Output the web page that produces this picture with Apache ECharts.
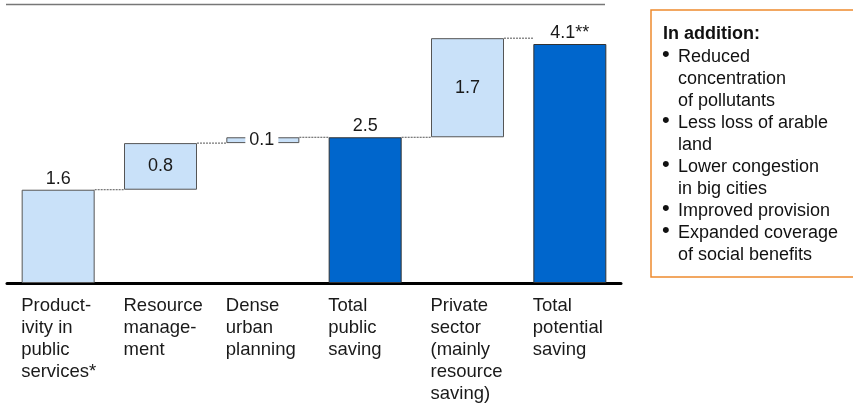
<!DOCTYPE html>
<html>
<head>
<meta charset="utf-8">
<script src="https://cdn.jsdelivr.net/npm/echarts@6/dist/echarts.min.js"></script>
<style>
  html, body { margin: 0; padding: 0; background: #fff; }
  #chart { width: 853px; height: 405px; }
</style>
</head>
<body>
<div id="chart"></div>
<script>
// Category labels, one line per entry
const categories = [
  ['Product-', 'ivity in', 'public', 'services*'],
  ['Resource', 'manage-', 'ment'],
  ['Dense', 'urban', 'planning'],
  ['Total', 'public', 'saving'],
  ['Private', 'sector', '(mainly', 'resource', 'saving)'],
  ['Total', 'potential', 'saving']
];
// Incremental savings (floating bars) and totals (bars from zero)
const increments = [1.6, 0.8, 0.1, null, 1.7, null];
const totals = [null, null, null, 2.5, null, 4.1];
const valueLabels = ['1.6', '0.8', '0.1', '2.5', '1.7', '4.1**'];

const sideTitle = 'In addition:';
const sideItems = [
  ['Reduced', 'concentration', 'of pollutants'],
  ['Less loss of arable', 'land'],
  ['Lower congestion', 'in big cities'],
  ['Improved provision'],
  ['Expanded coverage', 'of social benefits']
];

const FONT = 'Liberation Sans, Arial, Helvetica, sans-serif';
const LIGHT = '#C9E1F9';
const DARK = '#0066CC';
const BAR_W = 73;

// Waterfall layout: invisible base, then visible segment
const base = [], incData = [], totData = [], levels = [];
let running = 0;
for (let i = 0; i < categories.length; i++) {
  if (increments[i] != null) {
    base.push(running);
    running += increments[i];
    totData.push('-');
    const labelOpt = i === 0
      ? { show: true, position: 'top', distance: 2 }
      : (increments[i] < 0.3
          ? { show: true, position: 'inside', backgroundColor: '#fff', padding: [2, 4], offset: [-1, 0] }
          : { show: true, position: 'inside' });
    labelOpt.formatter = valueLabels[i];
    incData.push({ value: increments[i], label: labelOpt });
  } else {
    base.push(0);
    running = totals[i];
    incData.push('-');
    totData.push({ value: totals[i], label: { show: true, position: 'top', distance: 2, formatter: valueLabels[i] } });
  }
  levels.push(running);
}
const connectors = [];
for (let i = 0; i < categories.length - 1; i++) connectors.push([i, levels[i]]);

// Side note lines with bullet markers
const bodyLines = [], bulletLines = [];
sideItems.forEach(item => item.forEach((ln, k) => {
  bodyLines.push(ln);
  bulletLines.push(k === 0 ? '•' : ' ');
}));

const chart = echarts.init(document.getElementById('chart'), null, { renderer: 'canvas' });
chart.setOption({
  animation: false,
  backgroundColor: '#fff',
  textStyle: { fontFamily: FONT },
  grid: { left: 7, width: 614, bottom: 122, top: 3.2 },
  xAxis: {
    type: 'category',
    data: categories.map(c => c.join('\n')),
    axisLine: { show: true, lineStyle: { color: '#000', width: 3 } },
    axisTick: { show: false },
    axisLabel: {
      interval: 0,
      margin: 12,
      formatter: v => v.split('\n').map(s => '{a|' + s + '}').join('\n'),
      rich: {
        a: { width: 74, align: 'left', fontSize: 18.5, lineHeight: 22, color: '#1a1a1a', fontFamily: FONT }
      }
    }
  },
  yAxis: {
    type: 'value', min: 0, max: 4.8,
    show: false, splitLine: { show: false }
  },
  series: [
    {
      type: 'bar', stack: 'w', barWidth: BAR_W, data: base,
      itemStyle: { color: 'transparent' }, silent: true
    },
    {
      type: 'bar', stack: 'w', barWidth: BAR_W, data: incData,
      itemStyle: { color: LIGHT, borderColor: '#555', borderWidth: 1 },
      label: { color: '#1a1a1a', fontSize: 18, fontFamily: FONT }
    },
    {
      type: 'bar', stack: 'w', barWidth: BAR_W, data: totData,
      itemStyle: { color: DARK, borderColor: '#333', borderWidth: 1 },
      label: { color: '#1a1a1a', fontSize: 18, fontFamily: FONT }
    },
    {
      type: 'custom',
      data: connectors,
      z: 1,
      renderItem: (params, api) => {
        const i = api.value(0), lv = api.value(1);
        const a = api.coord([i, lv]);
        const b = api.coord([i + 1, lv]);
        return {
          type: 'line',
          shape: { x1: a[0] + BAR_W / 2, y1: a[1], x2: b[0] - BAR_W / 2, y2: b[1] },
          style: { stroke: '#555', lineWidth: 1, lineDash: [2, 1] }
        };
      }
    }
  ],
  graphic: [
    {
      type: 'line', shape: { x1: 6, y1: 4.5, x2: 605, y2: 4.5 },
      style: { stroke: '#777', lineWidth: 1.5 }
    },
    {
      type: 'rect', shape: { x: 651, y: 10, width: 260, height: 267 },
      style: { fill: '#fff', stroke: '#EE8A2E', lineWidth: 1.5 }
    },
    {
      type: 'text', left: 663, top: 25,
      style: { text: sideTitle, font: 'bold 18px ' + FONT, fill: '#111' }
    },
    {
      type: 'text', left: 662, top: 44,
      style: { text: bulletLines.join('\n'), font: '22px ' + FONT, lineHeight: 22, fill: '#111' }
    },
    {
      type: 'text', left: 678, top: 46,
      style: { text: bodyLines.join('\n'), font: '18px ' + FONT, lineHeight: 22, fill: '#111' }
    }
  ]
});
</script>
</body>
</html>
